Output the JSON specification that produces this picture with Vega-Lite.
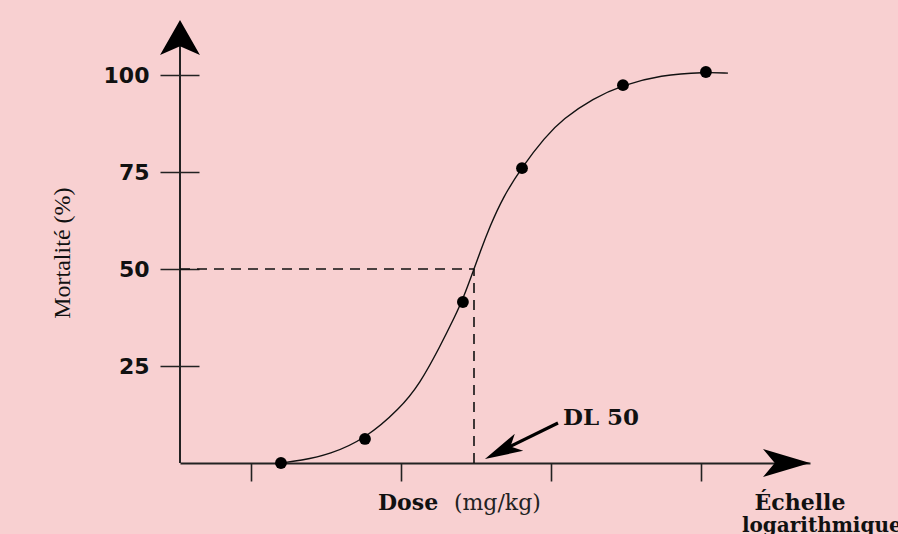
{
  "$schema": "https://vega.github.io/schema/vega-lite/v6.json",
  "width": 630,
  "height": 443,
  "autosize": {"type": "none"},
  "padding": {"left": 180, "top": 20, "right": 88, "bottom": 71},
  "background": "#f8d0d1",
  "config": {"view": {"stroke": null}},
  "datasets": {
    "curve": [
      {"x": 1.2, "y": 0}, {"x": 1.327, "y": 0.6}, {"x": 1.527, "y": 2.2}, {"x": 1.76, "y": 6.2},
      {"x": 1.993, "y": 14}, {"x": 2.127, "y": 20.5}, {"x": 2.26, "y": 30}, {"x": 2.36, "y": 37.8},
      {"x": 2.413, "y": 42.2}, {"x": 2.487, "y": 50}, {"x": 2.527, "y": 54.3}, {"x": 2.593, "y": 61},
      {"x": 2.68, "y": 68.5}, {"x": 2.807, "y": 76.3}, {"x": 2.96, "y": 84}, {"x": 3.08, "y": 88.7},
      {"x": 3.28, "y": 94}, {"x": 3.48, "y": 97.4}, {"x": 3.727, "y": 100}, {"x": 4.033, "y": 100.8},
      {"x": 4.18, "y": 100.5}
    ],
    "points": [
      {"x": 1.2, "y": 0}, {"x": 1.76, "y": 6.2}, {"x": 2.413, "y": 41.5},
      {"x": 2.807, "y": 76}, {"x": 3.48, "y": 97.4}, {"x": 4.033, "y": 100.8}
    ],
    "one": [{"k": 1}]
  },
  "layer": [
    {
      "data": {"name": "curve"},
      "mark": {"type": "line", "interpolate": "basis", "color": "#111", "strokeWidth": 1.4},
      "encoding": {
        "x": {"field": "x", "type": "quantitative",
          "scale": {"domain": [0.527, 4.727], "nice": false, "zero": false},
          "axis": {"values": [1, 2, 3, 4], "labels": false, "title": null, "grid": false,
            "domain": true, "domainColor": "#222", "domainWidth": 2,
            "ticks": true, "tickSize": 18, "tickColor": "#222", "tickWidth": 1.6}},
        "y": {"field": "y", "type": "quantitative",
          "scale": {"domain": [0, 114.2], "nice": false},
          "axis": {"values": [25, 50, 75, 100], "title": null, "grid": false, "domain": false,
            "offset": -19, "ticks": true, "tickSize": 39, "tickColor": "#222", "tickWidth": 1.6,
            "labelPadding": 11, "labelFont": "DejaVu Sans", "labelFontWeight": "bold",
            "labelFontSize": 22, "labelColor": "#111"}}
      }
    },
    {
      "data": {"name": "points"},
      "mark": {"type": "point", "shape": "circle", "filled": true, "color": "#000", "size": 140, "opacity": 1},
      "encoding": {
        "x": {"field": "x", "type": "quantitative", "title": null},
        "y": {"field": "y", "type": "quantitative", "title": null}
      }
    },
    {
      "data": {"name": "one"},
      "mark": {"type": "rule", "color": "#222", "strokeWidth": 2},
      "encoding": {
        "x": {"datum": 0.527, "type": "quantitative"},
        "y": {"datum": 0, "type": "quantitative"},
        "y2": {"datum": 112}
      }
    },
    {
      "data": {"name": "one"},
      "mark": {"type": "rule", "color": "#111", "strokeWidth": 1.6, "strokeDash": [10, 7]},
      "encoding": {
        "x": {"datum": 0.527, "type": "quantitative"},
        "x2": {"datum": 2.487},
        "y": {"datum": 50, "type": "quantitative"}
      }
    },
    {
      "data": {"name": "one"},
      "mark": {"type": "rule", "color": "#111", "strokeWidth": 1.6, "strokeDash": [10, 7]},
      "encoding": {
        "x": {"datum": 2.487, "type": "quantitative"},
        "y": {"datum": 0, "type": "quantitative"},
        "y2": {"datum": 50}
      }
    },
    {
      "data": {"name": "one"},
      "mark": {"type": "rule", "color": "#000", "strokeWidth": 3.2, "clip": false},
      "encoding": {
        "x": {"datum": 3.047, "type": "quantitative"},
        "x2": {"datum": 2.62},
        "y": {"datum": 10.3, "type": "quantitative"},
        "y2": {"datum": 2.2}
      }
    },
    {
      "data": {"name": "one"},
      "mark": {"type": "point", "shape": "M0,0L0.57,1L0,0.75L-0.57,1Z", "filled": true, "color": "#000", "opacity": 1, "size": 4900, "clip": false},
      "encoding": {
        "x": {"datum": 0.527, "type": "quantitative"},
        "y": {"datum": 114.2, "type": "quantitative"}
      }
    },
    {
      "data": {"name": "one"},
      "mark": {"type": "point", "shape": "M0,0L-1,-0.3L-0.75,0L-1,0.3Z", "filled": true, "color": "#000", "opacity": 1, "size": 8836, "clip": false},
      "encoding": {
        "x": {"datum": 4.727, "type": "quantitative"},
        "y": {"datum": 0, "type": "quantitative"}
      }
    },
    {
      "data": {"name": "one"},
      "mark": {"type": "point", "shape": "M0,0L0.25,1L0,0.75L-0.25,1Z", "filled": true, "color": "#000", "opacity": 1, "size": 5776, "angle": 243.7, "clip": false},
      "encoding": {
        "x": {"datum": 2.56, "type": "quantitative"},
        "y": {"datum": 1.0, "type": "quantitative"}
      }
    },
    {
      "data": {"values": [{"label": "Mortalité (%)"}]},
      "mark": {"type": "text", "angle": 270, "align": "center", "baseline": "middle", "font": "Liberation Serif", "fontSize": 24, "color": "#111"},
      "encoding": {
        "x": {"datum": -0.253, "type": "quantitative"},
        "y": {"datum": 54.1, "type": "quantitative"},
        "text": {"field": "label"}
      }
    },
    {
      "data": {"values": [{"label": "Dose"}]},
      "mark": {"type": "text", "align": "left", "baseline": "middle", "font": "DejaVu Serif", "fontWeight": "bold", "fontSize": 22, "color": "#111"},
      "encoding": {
        "x": {"datum": 1.847, "type": "quantitative"},
        "y": {"datum": -10.3, "type": "quantitative"},
        "text": {"field": "label"}
      }
    },
    {
      "data": {"values": [{"label": "(mg/kg)"}]},
      "mark": {"type": "text", "align": "left", "baseline": "middle", "font": "DejaVu Serif", "fontSize": 22, "color": "#222"},
      "encoding": {
        "x": {"datum": 2.353, "type": "quantitative"},
        "y": {"datum": -10.3, "type": "quantitative"},
        "text": {"field": "label"}
      }
    },
    {
      "data": {"values": [{"label": "DL 50"}]},
      "mark": {"type": "text", "align": "left", "baseline": "middle", "font": "DejaVu Serif", "fontWeight": "bold", "fontSize": 23, "color": "#111"},
      "encoding": {
        "x": {"datum": 3.08, "type": "quantitative"},
        "y": {"datum": 11.6, "type": "quantitative"},
        "text": {"field": "label"}
      }
    },
    {
      "data": {"values": [{"label": "Échelle"}]},
      "mark": {"type": "text", "align": "center", "baseline": "middle", "font": "DejaVu Serif", "fontWeight": "bold", "fontSize": 22, "color": "#111"},
      "encoding": {
        "x": {"datum": 4.66, "type": "quantitative"},
        "y": {"datum": -10.3, "type": "quantitative"},
        "text": {"field": "label"}
      }
    },
    {
      "data": {"values": [{"label": "logarithmique"}]},
      "mark": {"type": "text", "align": "left", "baseline": "middle", "font": "DejaVu Serif", "fontWeight": "bold", "fontSize": 20, "color": "#111"},
      "encoding": {
        "x": {"datum": 4.273, "type": "quantitative"},
        "y": {"datum": -16.3, "type": "quantitative"},
        "text": {"field": "label"}
      }
    }
  ]
}
